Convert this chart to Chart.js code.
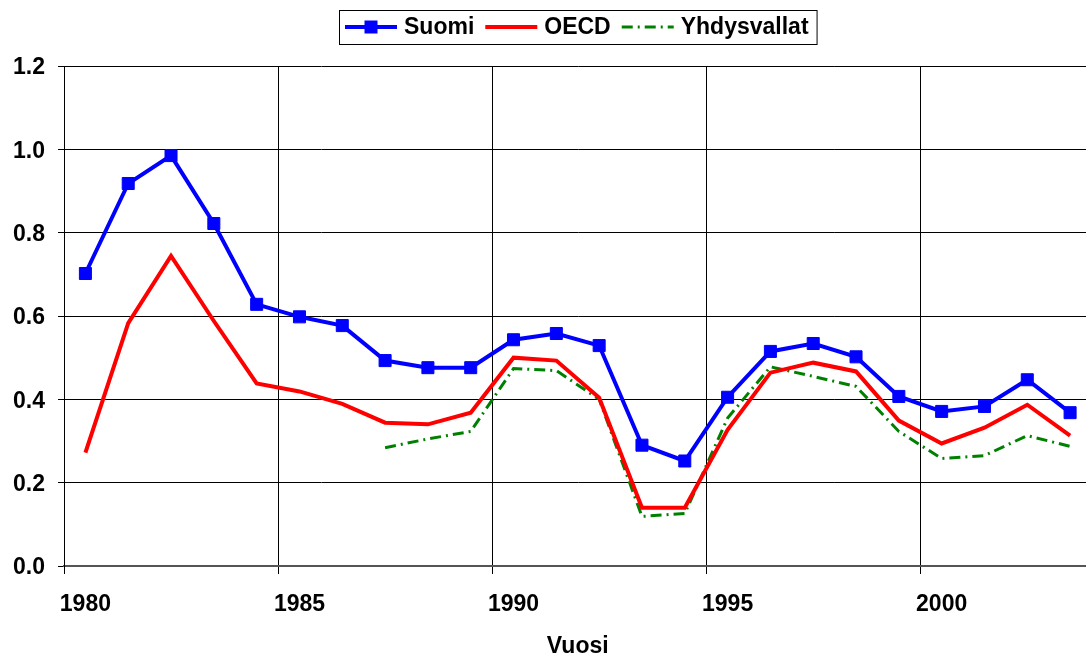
<!DOCTYPE html>
<html>
<head>
<meta charset="utf-8">
<script src="https://cdn.jsdelivr.net/npm/chart.js@4.4.1/dist/chart.umd.min.js"></script>
<style>
  html, body { margin: 0; padding: 0; background: #fff; overflow: hidden; }
  #wrap { width: 1101px; height: 659px; }
</style>
</head>
<body>
<div id="wrap"><canvas id="c" width="1101" height="659"></canvas></div>
<script>
const years = ['1980','1981','1982','1983','1984','1985','1986','1987','1988','1989','1990','1991',
               '1992','1993','1994','1995','1996','1997','1998','1999','2000','2001','2002','2003'];
const suomi = [0.702,0.918,0.985,0.822,0.628,0.598,0.577,0.493,0.476,0.476,0.543,0.558,
               0.529,0.290,0.252,0.405,0.515,0.534,0.502,0.407,0.371,0.383,0.447,0.368];
const oecd = [0.272,0.583,0.744,0.588,0.438,0.419,0.389,0.344,0.340,0.368,0.500,0.493,
              0.404,0.140,0.140,0.327,0.464,0.488,0.467,0.349,0.294,0.332,0.387,0.313];
const yhdysvallat = [null,null,null,null,null,null,null,0.284,0.305,0.323,0.474,0.469,
                     0.400,0.119,0.126,0.355,0.478,0.455,0.431,0.323,0.258,0.265,0.313,0.287];
const yTicks = [0, 0.2, 0.4, 0.6, 0.8, 1.0, 1.2];

const FONT = '"Liberation Sans", Arial, sans-serif';
const tickFont = { family: FONT, size: 23, weight: 'bold' };

const legendPlugin = {
  id: 'boxLegend',
  afterDraw(chart) {
    const ctx = chart.ctx;
    ctx.save();
    ctx.font = 'bold 23px ' + FONT;
    const sw = 52, gapT = 7, gapI = 11, padL = 6, padR = 8;
    const items = chart.data.datasets.map(ds => ({ ds, w: ctx.measureText(ds.label).width }));
    let total = padL + padR;
    items.forEach((it, i) => { total += sw + gapT + it.w + (i < items.length - 1 ? gapI : 0); });
    const ca = chart.chartArea;
    const cx = (ca.left + 1091) / 2;
    let x = Math.round(cx - total / 2);
    const top = 10, h = 34, y = top + h / 2;
    ctx.fillStyle = '#fff';
    ctx.fillRect(x, top, total, h);
    ctx.strokeStyle = '#000';
    ctx.lineWidth = 1;
    ctx.strokeRect(x + 0.5, top + 0.5, total, h);
    x += padL;
    items.forEach(it => {
      const ds = it.ds;
      ctx.save();
      ctx.strokeStyle = ds.borderColor;
      ctx.lineWidth = ds.borderWidth;
      ctx.setLineDash(ds.borderDash || []);
      ctx.beginPath();
      ctx.moveTo(x, y);
      ctx.lineTo(x + sw, y);
      ctx.stroke();
      ctx.restore();
      if (ds.pointRadius > 0) {
        ctx.fillStyle = ds.borderColor;
        ctx.fillRect(x + sw / 2 - 6.5, y - 6.5, 13, 13);
      }
      ctx.fillStyle = '#000';
      ctx.textBaseline = 'middle';
      ctx.textAlign = 'left';
      ctx.fillText(ds.label, x + sw + gapT, y + 1);
      x += sw + gapT + it.w + gapI;
    });
    ctx.restore();
  }
};

new Chart(document.getElementById('c'), {
  type: 'line',
  data: {
    labels: years,
    datasets: [
      { label: 'Suomi', data: suomi, borderColor: '#0000FF', backgroundColor: '#0000FF',
        borderWidth: 4, pointStyle: 'rect', pointRadius: 8.5, pointBorderWidth: 1,
        pointBackgroundColor: '#0000FF', pointBorderColor: '#0000FF', tension: 0 },
      { label: 'OECD', data: oecd, borderColor: '#FF0000', backgroundColor: '#FF0000',
        borderWidth: 4, pointRadius: 0, tension: 0 },
      { label: 'Yhdysvallat', data: yhdysvallat, borderColor: '#008000', backgroundColor: '#008000',
        borderWidth: 3, borderDash: [11, 5, 2, 5], pointRadius: 0, tension: 0, spanGaps: false }
    ]
  },
  options: {
    responsive: false,
    animation: false,
    layout: { padding: { top: 66, left: 0, right: 0, bottom: 0 } },
    plugins: { legend: { display: false }, tooltip: { enabled: false } },
    scales: {
      x: {
        type: 'category',
        offset: true,
        grid: {
          offset: true,
          color: c => (c.index % 5 === 0 ? '#000' : 'rgba(0,0,0,0)'),
          tickColor: c => (c.index % 5 === 0 ? '#000' : 'rgba(0,0,0,0)'),
          tickLength: 8,
          lineWidth: 1
        },
        border: { color: '#555', width: 2 },
        ticks: {
          autoSkip: false, maxRotation: 0, minRotation: 0, padding: 17,
          color: '#000', font: tickFont,
          callback: function (v, i) { return i % 5 === 0 ? this.getLabelForValue(v) : ''; }
        },
        title: { display: true, text: 'Vuosi', color: '#000', font: tickFont, padding: { top: 0, bottom: -1 } },
        afterFit: s => { s.height = 93; }
      },
      y: {
        min: 0, max: 1.2,
        afterBuildTicks: s => { s.ticks = yTicks.map(v => ({ value: v })); },
        grid: { color: '#000', tickColor: '#000', tickLength: 6, lineWidth: 1 },
        border: { color: '#000', width: 1 },
        ticks: { padding: 13, labelOffset: 2, color: '#000', font: tickFont, callback: v => Number(v).toFixed(1) },
        afterFit: s => { s.width = 64; }
      }
    }
  },
  plugins: [legendPlugin]
});
</script>
</body>
</html>
